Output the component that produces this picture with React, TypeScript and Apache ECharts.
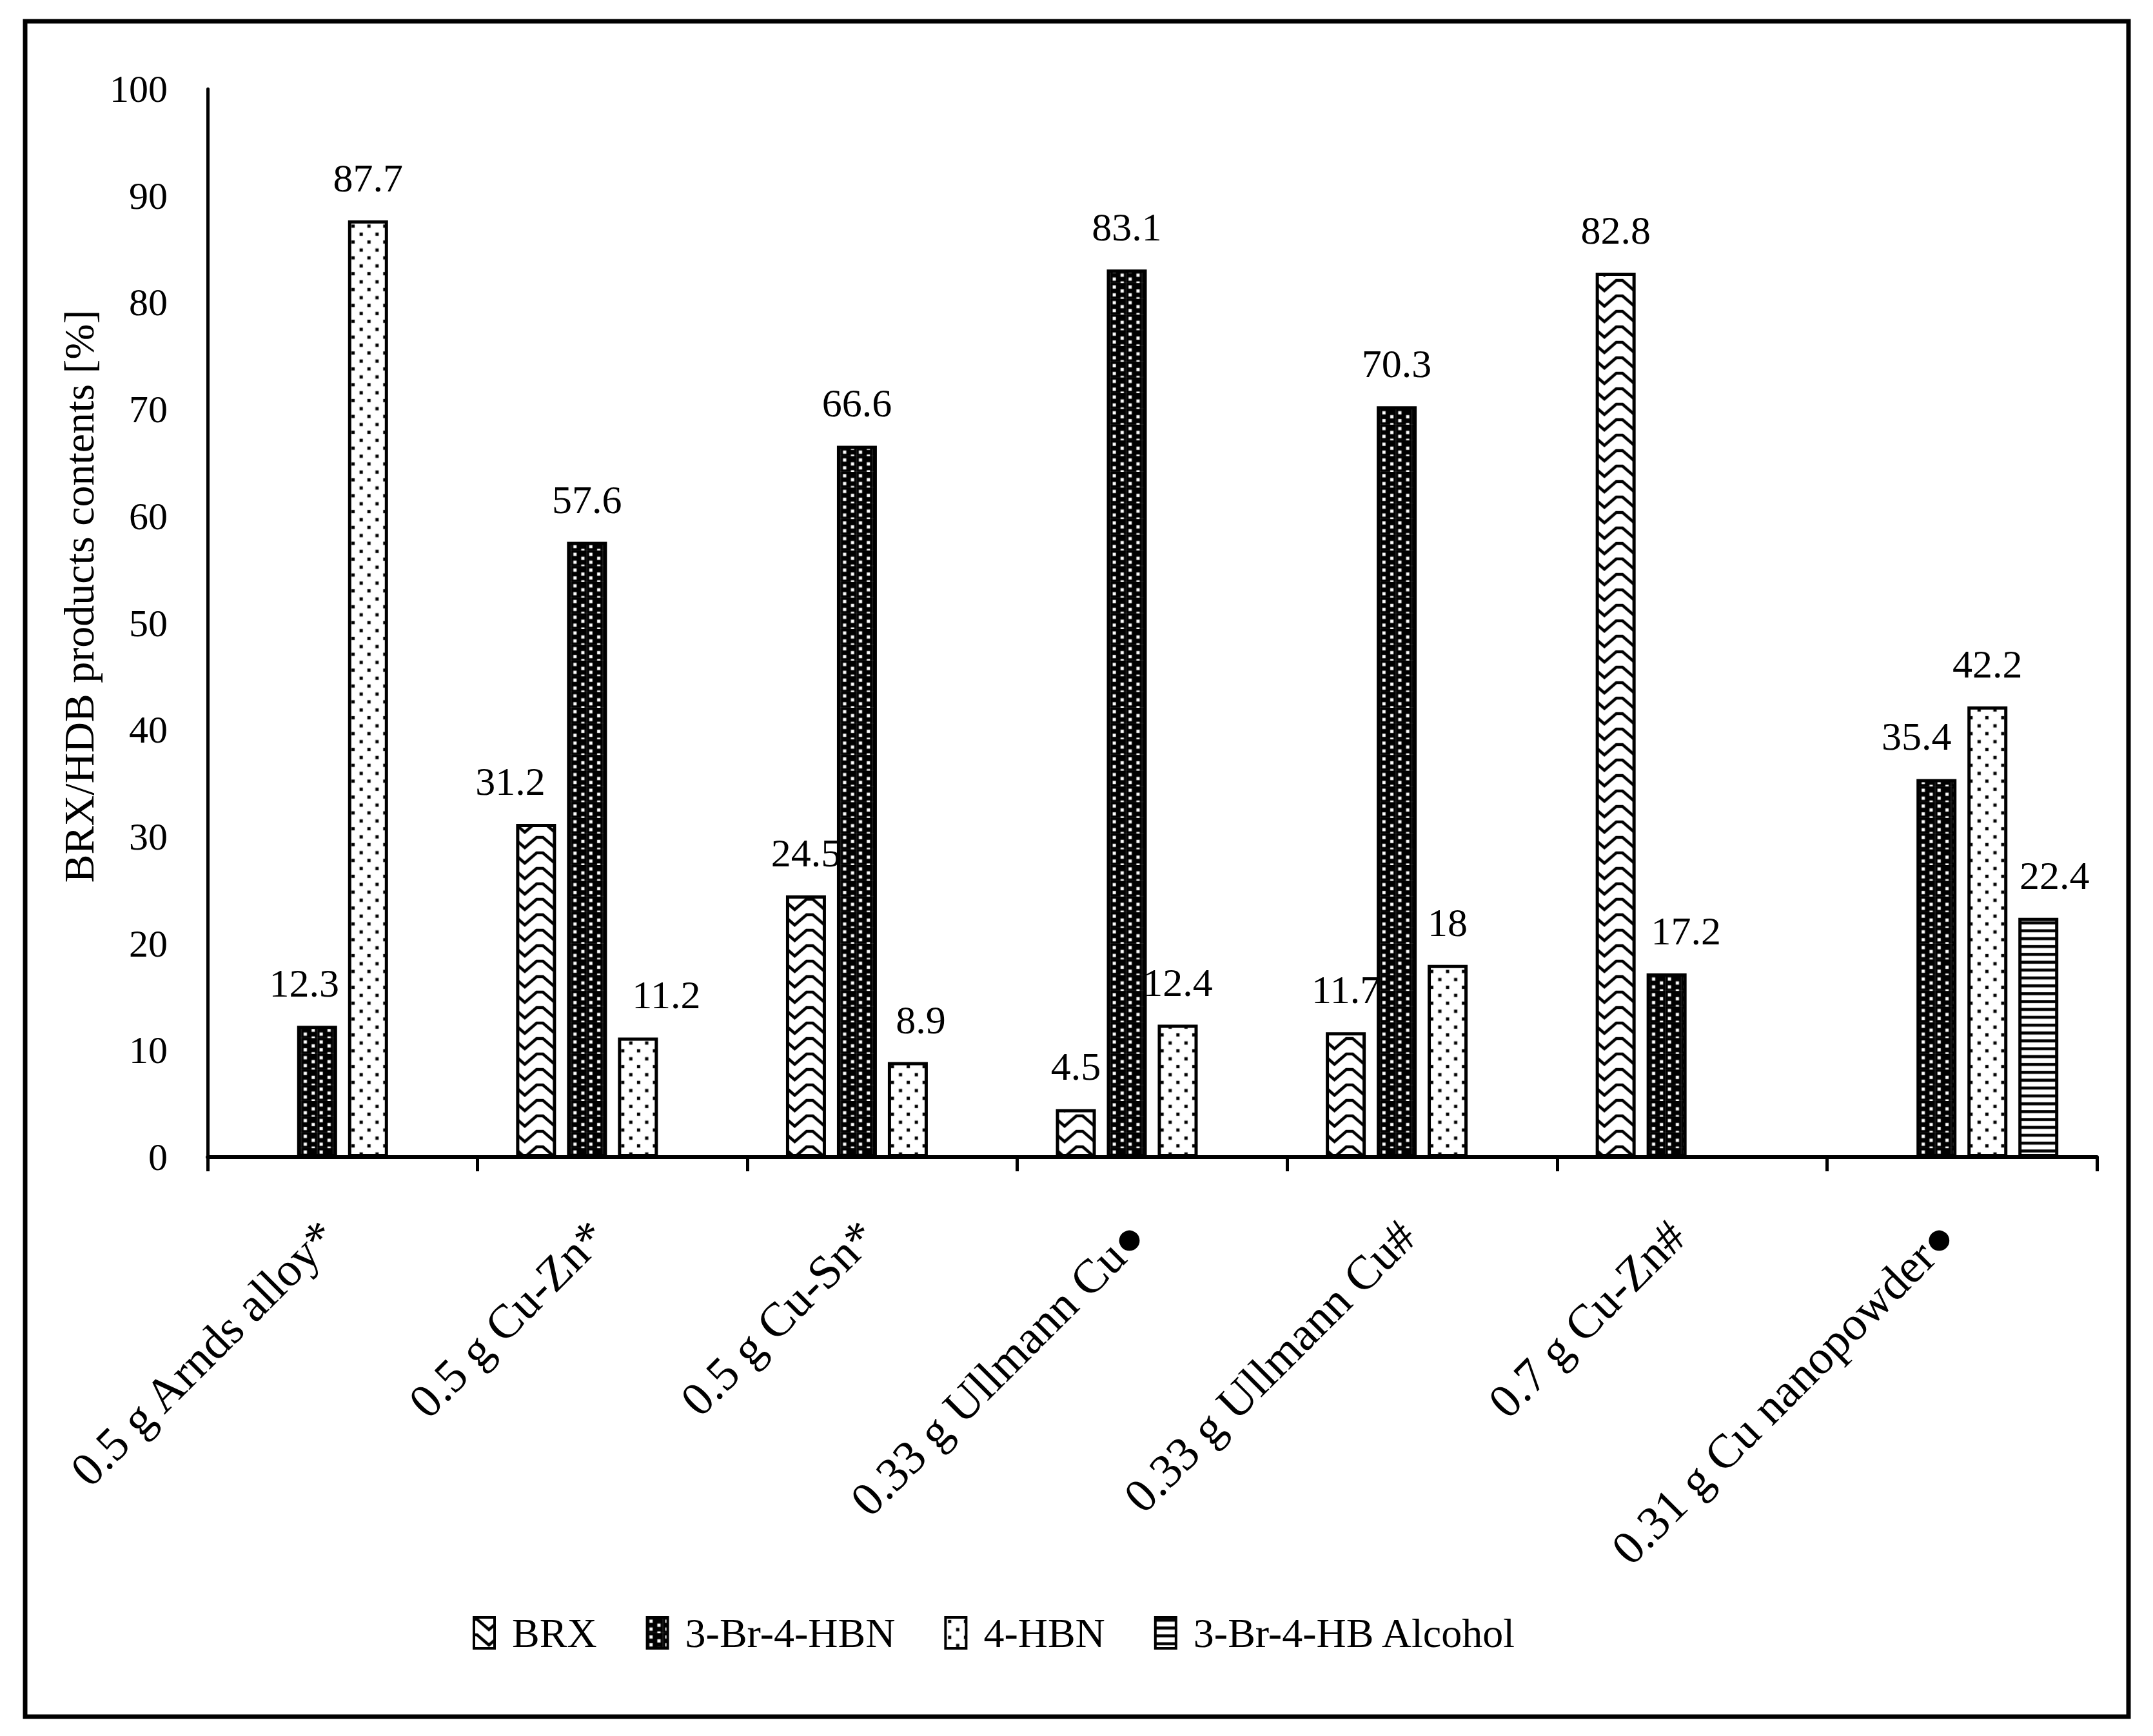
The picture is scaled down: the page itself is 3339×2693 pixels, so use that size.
import React, { useEffect, useRef } from 'react';
import * as echarts from 'echarts';

// ---------- data ----------
const categories = [
  '0.5 g Arnds alloy*',
  '0.5 g Cu-Zn*',
  '0.5 g Cu-Sn*',
  '0.33 g Ullmann Cu●',
  '0.33 g Ullmann Cu#',
  '0.7 g Cu-Zn#',
  '0.31 g Cu nanopowder●',
];
const seriesNames = ['BRX', '3-Br-4-HBN', '4-HBN', '3-Br-4-HB Alcohol'];
const brxValues = [null, 31.2, 24.5, 4.5, 11.7, 82.8, null];
const brHbnValues = [12.3, 57.6, 66.6, 83.1, 70.3, 17.2, 35.4];
const hbnValues = [87.7, 11.2, 8.9, 12.4, 18, null, 42.2];
const alcoholValues = [null, null, null, null, null, null, 22.4];
const yMin = 0;
const yMax = 100;
const yStep = 10;
const yAxisTitle = 'BRX/HDB products contents [%]';

// ---------- label nudges (styling only, px) ----------
const brxNudge = [0, -40, 0, 0, 0, 0, 0];
const brHbnNudge = [-20, 0, 0, 0, 0, 30, -31];
const hbnNudge = [0, 44, 20, 0, 0, 0, 0];
const alcoholNudge = [0, 0, 0, 0, 0, 0, 25];

const FONT = '"Liberation Serif", "Times New Roman", serif';

function makeCanvas(w: number, h: number, draw: (ctx: CanvasRenderingContext2D) => void) {
  const c = document.createElement('canvas');
  c.width = w;
  c.height = h;
  const ctx = c.getContext('2d') as CanvasRenderingContext2D;
  draw(ctx);
  return c;
}

function buildPatterns() {
  const S = 2; // canvas supersampling
  // BRX zigzag (V shapes)
  const zw = 418.57 / 9;
  const zh = 24;
  const zig = makeCanvas(Math.round(zw * S), zh * S, (ctx) => {
    ctx.fillStyle = '#fff';
    ctx.fillRect(0, 0, zw * S, zh * S);
    ctx.strokeStyle = '#000';
    ctx.lineWidth = 4.5 * S;
    ctx.lineJoin = 'miter';
    ctx.beginPath();
    ctx.moveTo(-2 * S, 3 * S);
    ctx.lineTo(5 * S, 3 * S);
    ctx.lineTo((zw / 2) * S, 19 * S);
    ctx.lineTo((zw - 5) * S, 3 * S);
    ctx.lineTo((zw + 2) * S, 3 * S);
    ctx.stroke();
  });
  // 3-Br-4-HBN: black with staggered white squares
  const dw = 24.6;
  const dh = 24.4;
  const dense = makeCanvas(Math.round(dw * S), Math.round(dh * S), (ctx) => {
    ctx.fillStyle = '#000';
    ctx.fillRect(0, 0, dw * S, dh * S);
    ctx.fillStyle = '#fff';
    const sq = 5 * S;
    const pts = [
      [3.5, 3.5],
      [3.5, 15.7],
      [15.8, 9.6],
      [15.8, 21.8],
    ];
    pts.forEach(([x, y]) => ctx.fillRect(x * S, y * S, sq, sq));
  });
  // 4-HBN: white with sparse black dots
  const sw = 24.6;
  const sparse = makeCanvas(Math.round(sw * S), Math.round(sw * S), (ctx) => {
    ctx.fillStyle = '#fff';
    ctx.fillRect(0, 0, sw * S, sw * S);
    ctx.fillStyle = '#000';
    const sq = 5 * S;
    ctx.fillRect(4 * S, 4 * S, sq, sq);
    ctx.fillRect(16.3 * S, 16.3 * S, sq, sq);
  });
  // Alcohol: horizontal lines
  const lw = 12;
  const lh = 12.2;
  const lines = makeCanvas(lw * S, Math.round(lh * S), (ctx) => {
    ctx.fillStyle = '#fff';
    ctx.fillRect(0, 0, lw * S, lh * S);
    ctx.fillStyle = '#000';
    ctx.fillRect(0, 2 * S, lw * S, 4.5 * S);
  });
  return {
    brx: { image: zig, repeat: 'repeat', imageWidth: zw, imageHeight: zh, x: 17.47, y: 0 },
    brHbn: { image: dense, repeat: 'repeat', imageWidth: dw, imageHeight: dh },
    hbn: { image: sparse, repeat: 'repeat', imageWidth: sw, imageHeight: sw },
    alcohol: { image: lines, repeat: 'repeat', imageWidth: lw, imageHeight: lh },
  };
}

function withNudges(values: (number | null)[], nudges: number[]) {
  return values.map((v, i) =>
    v == null ? null : { value: v, label: { offset: [nudges[i], 0] } }
  );
}

export default function App() {
  const ref = useRef<HTMLDivElement>(null);

  useEffect(() => {
    if (!ref.current) return;
    const chart = echarts.init(ref.current, undefined, { renderer: 'svg' });
    const p = buildPatterns();

    const labelStyle = {
      show: true,
      position: 'top',
      distance: 35,
      fontSize: 62,
      fontFamily: FONT,
      color: '#000',
    };
    const mkSeries = (name: string, pattern: any, values: (number | null)[], nudges: number[]) => ({
      name,
      type: 'bar',
      barWidth: 62,
      barGap: '27.4%',
      data: withNudges(values, nudges),
      itemStyle: { color: pattern, borderColor: '#000', borderWidth: 5 },
      label: labelStyle,
    });

    const option: any = {
      animation: false,
      backgroundColor: '#fff',
      grid: { left: 322, right: 87, top: 138, bottom: 898, containLabel: false },
      legend: {
        data: seriesNames,
        left: 728,
        top: 2496,
        icon: 'rect',
        itemWidth: 32,
        itemHeight: 48,
        itemGap: 76,
        itemStyle: { borderColor: '#000', borderWidth: 4 },
        textStyle: { fontSize: 64, fontFamily: FONT, color: '#000', padding: [0, 0, 0, 22] },
      },
      xAxis: {
        type: 'category',
        data: categories,
        axisLine: { lineStyle: { color: '#000', width: 6 } },
        axisTick: { show: true, interval: 0, length: 22, lineStyle: { color: '#000', width: 5 } },
        axisLabel: {
          interval: 0,
          rotate: 45,
          fontSize: 74,
          fontFamily: FONT,
          color: '#000',
          margin: 88,
          padding: [0, 32, 0, 0],
        },
        splitLine: { show: false },
      },
      yAxis: {
        type: 'value',
        min: yMin,
        max: yMax,
        interval: yStep,
        axisLine: { show: true, lineStyle: { color: '#000', width: 5 } },
        axisTick: { show: false },
        splitLine: { show: false },
        axisLabel: { fontSize: 60, fontFamily: FONT, color: '#000', margin: 62 },
      },
      series: [
        mkSeries(seriesNames[0], p.brx, brxValues, brxNudge),
        mkSeries(seriesNames[1], p.brHbn, brHbnValues, brHbnNudge),
        mkSeries(seriesNames[2], p.hbn, hbnValues, hbnNudge),
        mkSeries(seriesNames[3], p.alcohol, alcoholValues, alcoholNudge),
      ],
      graphic: [
        {
          type: 'rect',
          shape: { x: 39, y: 33, width: 3262, height: 2630 },
          style: { fill: 'none', stroke: '#000', lineWidth: 7 },
          silent: true,
        },
        {
          type: 'text',
          x: 122,
          y: 925,
          rotation: Math.PI / 2,
          style: {
            text: yAxisTitle,
            fontSize: 66,
            fontFamily: FONT,
            fill: '#000',
            textAlign: 'center',
            textVerticalAlign: 'middle',
          },
          silent: true,
        },
      ],
    };
    chart.setOption(option);
    return () => chart.dispose();
  }, []);

  return (
    <div
      ref={ref}
      style={{ position: 'fixed', left: 0, top: 0, width: 3339, height: 2693, background: '#fff' }}
    />
  );
}
